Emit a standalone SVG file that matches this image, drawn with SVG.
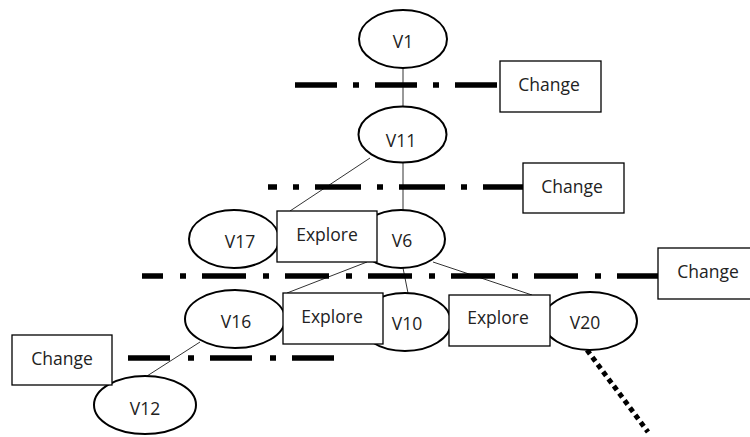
<svg xmlns="http://www.w3.org/2000/svg" width="750" height="437" viewBox="0 0 750 437">
<style>
.bg{fill:#fff}
.node ellipse{fill:#fff;stroke:#000;stroke-width:2}
.box rect{fill:#fff;stroke:#000;stroke-width:1.3}
text{font-family:"Open Sans","Liberation Sans",sans-serif;font-size:17.5px;fill:#222;text-anchor:middle}
.edge{stroke:#333;stroke-width:1;fill:none}
.cut{stroke:#000;stroke-width:5.5;fill:none;stroke-linecap:butt}
.dots{stroke:#000;stroke-width:5;fill:none;stroke-dasharray:5 4}
</style>
<rect class="bg" width="750" height="437"/>
<g id="connectors">
<line class="edge" x1="403" y1="68" x2="403" y2="107"/>
<line class="edge" x1="370" y1="158" x2="290" y2="211"/>
<line class="edge" x1="403" y1="162" x2="403" y2="211"/>
<line class="edge" x1="367" y1="262" x2="287" y2="293"/>
<line class="edge" x1="403" y1="268" x2="408" y2="293"/>
<line class="edge" x1="433" y1="262" x2="532" y2="295"/>
<line class="edge" x1="200" y1="342" x2="147" y2="376"/>
<line class="dots" x1="587" y1="350" x2="648" y2="432"/>
</g>
<g id="V1" class="node"><ellipse cx="403" cy="39" rx="44" ry="29"/><text x="403" y="48">V1</text></g>
<g id="V11" class="node"><ellipse cx="402.5" cy="134.5" rx="44" ry="28"/><text x="401" y="147">V11</text></g>
<g id="V17" class="node"><ellipse cx="234" cy="239" rx="45" ry="29"/><text x="240" y="248">V17</text></g>
<g id="V6" class="node"><ellipse cx="401" cy="239" rx="44" ry="29"/><text x="402" y="247">V6</text></g>
<g id="V16" class="node"><ellipse cx="235" cy="319" rx="50" ry="29"/><text x="236" y="328">V16</text></g>
<g id="V10" class="node"><ellipse cx="405" cy="322" rx="46" ry="29"/><text x="407" y="330">V10</text></g>
<g id="V20" class="node"><ellipse cx="590" cy="321" rx="47" ry="29"/><text x="585" y="329">V20</text></g>
<g id="V12" class="node"><ellipse cx="145" cy="405" rx="51" ry="29"/><text x="145" y="415">V12</text></g>
<g id="explore1" class="box"><rect x="277" y="211" width="100" height="51"/><text x="327" y="241">Explore</text></g>
<g id="explore2" class="box"><rect x="283" y="293" width="100" height="51"/><text x="332" y="323">Explore</text></g>
<g id="explore3" class="box"><rect x="449" y="295" width="101" height="51"/><text x="498" y="324">Explore</text></g>
<g id="cuts">
<line class="cut" x1="295" y1="85" x2="500" y2="85" stroke-dasharray="42 16 6 16"/>
<line class="cut" x1="268" y1="187" x2="523" y2="187" stroke-dasharray="46 16 6 16" stroke-dashoffset="37"/>
<line class="cut" x1="142" y1="276" x2="658" y2="276" stroke-dasharray="44 17 6 16" stroke-dashoffset="23"/>
<line class="cut" x1="128" y1="358" x2="335" y2="358" stroke-dasharray="42 18 6 16"/>
</g>
<g id="change1" class="box"><rect x="500" y="61" width="101" height="51"/><text x="549" y="91">Change</text></g>
<g id="change2" class="box"><rect x="523" y="163" width="101" height="50"/><text x="572" y="193">Change</text></g>
<g id="change3" class="box"><rect x="658" y="248" width="100" height="51"/><text x="708" y="278">Change</text></g>
<g id="change4" class="box"><rect x="12" y="335" width="100" height="50"/><text x="62" y="365">Change</text></g>
</svg>
